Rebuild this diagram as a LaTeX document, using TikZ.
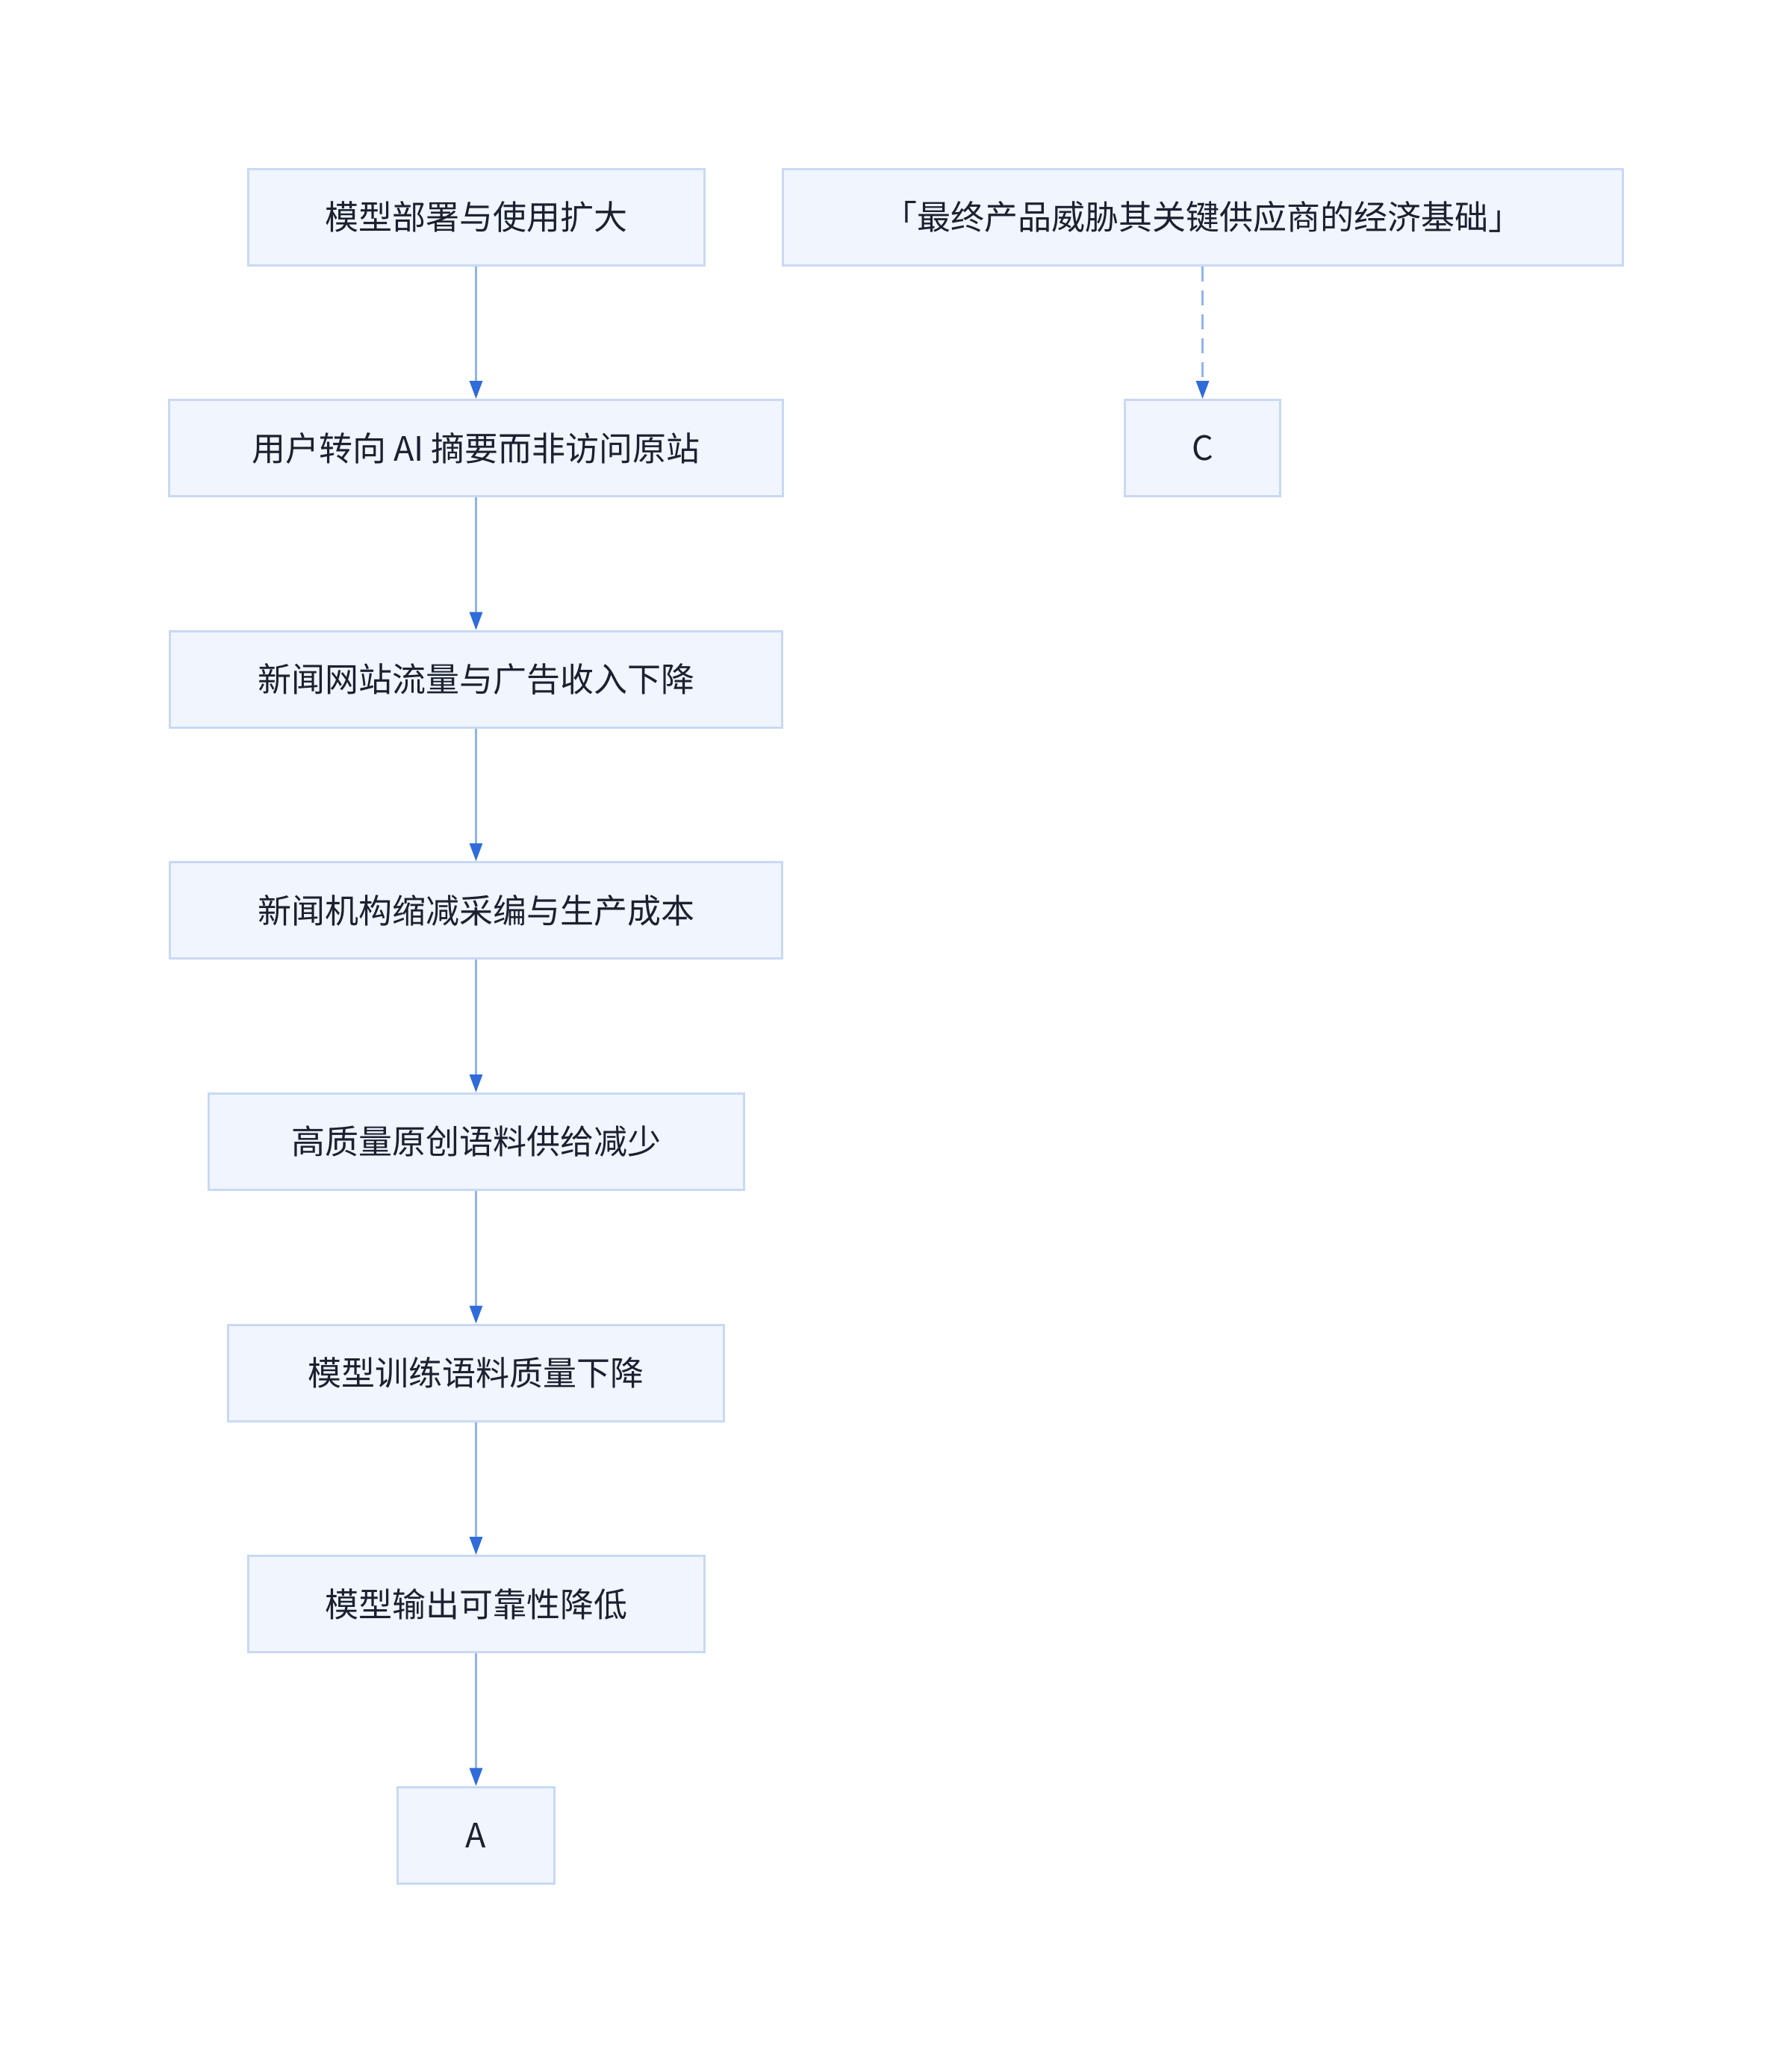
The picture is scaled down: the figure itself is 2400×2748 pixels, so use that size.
\documentclass[tikz,border=0pt]{standalone}
\usepackage{fontspec}
\setmainfont{Noto Sans CJK SC}
\usetikzlibrary{arrows.meta}
\definecolor{boxfill}{HTML}{F0F5FE}
\definecolor{boxline}{HTML}{C9D9F4}
\definecolor{linkline}{HTML}{8FB3F0}
\definecolor{tipblue}{HTML}{2F6BDB}
\definecolor{inktext}{HTML}{1B2130}
\begin{document}
\begin{tikzpicture}
	[x=1pt,y=-1pt,%%%%%%%%%%%%%%%%%%%%%%%%%%%%%%
	box/.style={rectangle,draw=boxline,fill=boxfill,line width=3pt,minimum height=129pt,
		inner sep=0pt,text=inktext,font=\fontsize{45pt}{54pt}\selectfont},
	link/.style={draw=linkline,line width=3pt,
		-{Triangle[length=24pt,width=17pt,color=tipblue]}},
	]%%%%%%%%%%%%%%%%%%%%%%%%%%%%%%
	\useasboundingbox (0,0) rectangle (2400,2748);
	
	\foreach \t/\w [count=\i] in {模型部署与使用扩大/611,用户转向 AI 摘要而非访问原站/822,
		新闻网站流量与广告收入下降/820,新闻机构缩减采编与生产成本/820,
		高质量原创语料供给减少/717,模型训练语料质量下降/664,模型输出可靠性降低/611,A/210}{
		\node[box,minimum width=\w pt] (n\i) at (637.5,{290.5+309.6*(\i-1)}) {\t};
	}
	\foreach \i in {1,...,7}{
		\pgfmathtruncatemacro\j{\i+1}
		\draw[link] (n\i) -- (n\j);
	}
	
	\node[box,minimum width=1125pt] (top) at (1610.5,290.5) {「最终产品威胁其关键供应商的经济基础」};
	\node[box,minimum width=208pt] (c) at (1610.5,600.1) {C};
	\draw[link,dash pattern=on 20pt off 12pt] (top) -- (c);
	
	\end{tikzpicture}
\end{document}
